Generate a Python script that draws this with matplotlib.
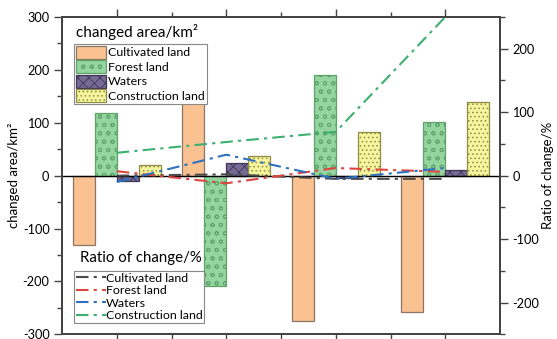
import matplotlib
matplotlib.use("Agg")
import matplotlib.pyplot as plt
from matplotlib.ticker import MultipleLocator, FixedLocator
import numpy as np

plt.rcParams['font.family'] = ['Lato', 'DejaVu Sans']
plt.rcParams['hatch.linewidth'] = 0.6
plt.rcParams['axes.unicode_minus'] = False

periods = [1, 2, 3, 4]
categories = ["Cultivated land", "Forest land", "Waters", "Construction land"]

# changed area (km^2)
area_cultivated = [-132, 145, -274, -258]
area_forest = [118, -209, 191, 102]
area_waters = [-10, 24, -5, 11]
area_construction = [21, 38, 82, 140]

# ratio of change (%)
ratio_cultivated = [0, 2, -5, -5]
ratio_forest = [7, -12, 12, 6]
ratio_waters = [-10, 33, -5, 12]
ratio_construction = [36, 53, 69, 250]

fig = plt.figure(figsize=(5.57, 3.39), dpi=100)
ax = fig.add_axes([62/557, 1-334.3/339, 438/557, 317.3/339])
ax2 = ax.twinx()

x = np.array(periods, dtype=float)
w = 0.2
bar_styles = [
    dict(color='#fac291', edgecolor='#8c7565', hatch=None),
    dict(color='#94d49e', edgecolor='#5fa36b', hatch='oo'),
    dict(color='#756b95', edgecolor='#3e3656', hatch='xxx'),
    dict(color='#f7f49e', edgecolor='#8f8c45', hatch='....'),
]
area_series = [area_cultivated, area_forest, area_waters, area_construction]
offsets = [-0.3, -0.1, 0.1, 0.3]
bar_handles = []
for vals, off, st, lab in zip(area_series, offsets, bar_styles, categories):
    b = ax.bar(x + off, vals, width=w, color=st['color'], edgecolor=st['edgecolor'],
               hatch=st['hatch'], linewidth=0.9, label=lab, zorder=2)
    bar_handles.append(b)

ax.axhline(0, color='black', lw=1.0, zorder=3)

ls = (0, (6, 2.5, 1.5, 2.5))
line_colors = ['#4a4a4a', '#d9473f', '#2f70c0', '#3cb070']
ratio_series = [ratio_cultivated, ratio_forest, ratio_waters, ratio_construction]
line_handles = []
for vals, c, lab in zip(ratio_series, line_colors, categories):
    l, = ax2.plot(x, vals, color=c, lw=1.5, linestyle=ls, label=lab, zorder=4)
    line_handles.append(l)

ax.set_xlim(0.5, 4.5)
ax.set_ylim(-300, 300)
ax2.set_ylim(-250, 250)

ax.xaxis.set_major_locator(FixedLocator([1, 2, 3, 4]))
ax.xaxis.set_minor_locator(FixedLocator([1.5, 2.5, 3.5]))
ax.yaxis.set_major_locator(MultipleLocator(100))
ax.yaxis.set_minor_locator(MultipleLocator(50))
ax2.yaxis.set_major_locator(MultipleLocator(100))
ax2.yaxis.set_minor_locator(MultipleLocator(50))

ax.tick_params(axis='x', which='both', top=True, bottom=True, labelbottom=False,
               labeltop=False, direction='out')
ax.tick_params(axis='both', which='major', length=6, width=1.0, color='#444444',
               labelsize=9.2, pad=3)
ax.tick_params(axis='both', which='minor', length=3.5, width=1.0, color='#444444')
ax2.tick_params(axis='y', which='major', length=6, width=1.0, color='#444444',
                labelsize=9.2, pad=3)
ax2.tick_params(axis='y', which='minor', length=3.5, width=1.0, color='#444444')

for a in (ax, ax2):
    for s in a.spines.values():
        s.set_color('#444444')
        s.set_linewidth(1.4)

ax.set_ylabel("changed area/km²", fontsize=9.5, labelpad=2)
ax2.set_ylabel("Ratio of change/%", fontsize=9.5, labelpad=2)

leg1 = ax2.legend(bar_handles, categories, loc='upper left',
                  bbox_to_anchor=(0.028, 0.916), fontsize=8.9, frameon=True,
                  fancybox=False, edgecolor='#888888', framealpha=1,
                  handlelength=2.4, handleheight=1.25, labelspacing=0.12,
                  borderpad=0.15, handletextpad=0.2, borderaxespad=0)
leg1.get_frame().set_linewidth(0.8)
ax2.add_artist(leg1)
ax2.text(0.172, 0.952, "changed area/km²", transform=ax2.transAxes,
         ha='center', va='center', fontsize=11)

leg2 = ax2.legend(line_handles, categories, loc='upper left',
                  bbox_to_anchor=(0.028, 0.2), fontsize=8.9, frameon=True,
                  fancybox=False, edgecolor='#888888', framealpha=1,
                  handlelength=2.4, labelspacing=0.12, borderpad=0.15,
                  handletextpad=0.0, borderaxespad=0)
leg2.get_frame().set_linewidth(0.8)
ax2.text(0.18, 0.24, "Ratio of change/%", transform=ax2.transAxes,
         ha='center', va='center', fontsize=10.8)

fig.savefig("out.png", dpi=100)
